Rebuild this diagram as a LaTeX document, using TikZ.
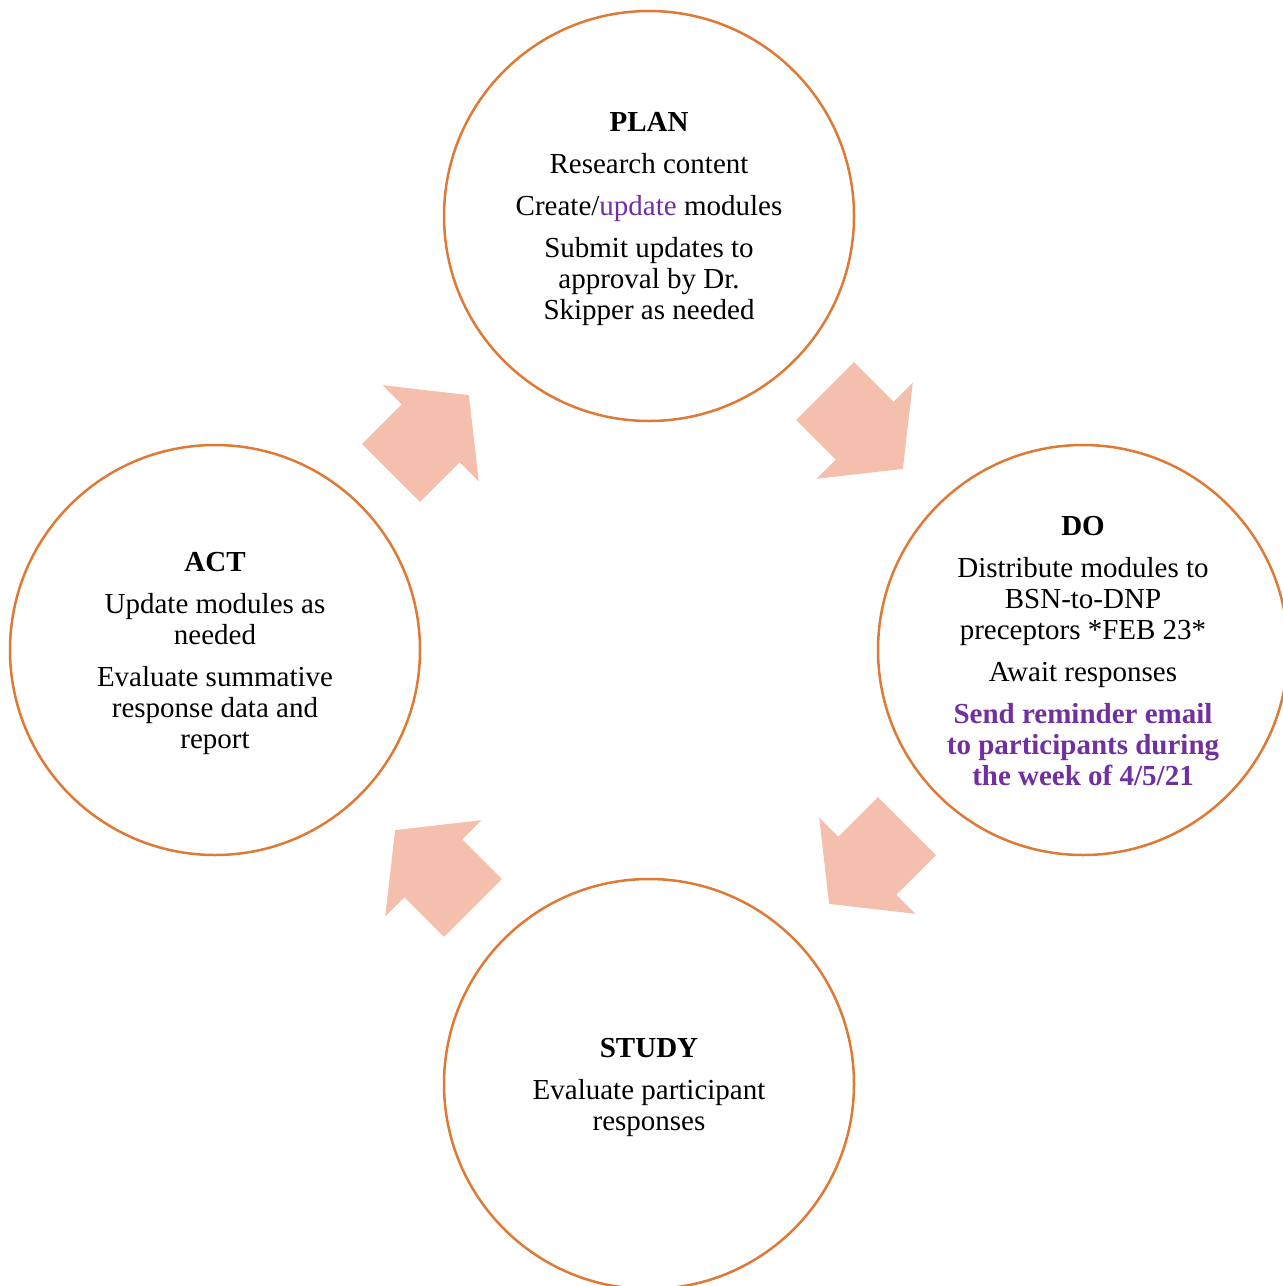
\documentclass[tikz,border=0pt]{standalone}
\usepackage{fontspec}
\setmainfont{Liberation Serif}
\definecolor{ringc}{HTML}{DF7A36}
\definecolor{arrowc}{HTML}{F4BFAD}
\definecolor{purp}{HTML}{7030A0}
\tikzset{
  phase/.style={circle, draw=ringc, line width=2.5pt, minimum size=410pt, inner sep=0pt},
  phasetext/.style={align=center, font=\fontsize{29}{31}\selectfont, text=black, inner sep=0pt},
  flow/.style={fill=arrowc, draw=none},
}
\newcommand{\chunkarrow}{(-55,41) -- (1,41) -- (1,68) -- (55,0) -- (1,-68) -- (1,-41) -- (-55,-41) -- cycle}
\begin{document}
\begin{tikzpicture}[x=1pt,y=-1pt]
\useasboundingbox (0,0) rectangle (1283,1286);
\fill[white] (0,0) rectangle (1283,1286);
\node[phase] (plan) at (649,216) {};
\node[phase] (do) at (1083,650) {};
\node[phase] (study) at (649,1084) {};
\node[phase] (act) at (215,650) {};
\node[phasetext] (plantext) at ([yshift=-3pt]plan.center) {\textbf{PLAN}\\[11pt]Research content\\[11pt]Create/\textcolor{purp}{update} modules\\[11pt]Submit updates to\\approval by Dr.\\Skipper as needed};
\node[phasetext] (dotext) at ([yshift=-1pt]do.center) {\textbf{DO}\\[11pt]Distribute modules to\\BSN-to-DNP\\preceptors *FEB 23*\\[11pt]Await responses\\[11pt]\textcolor{purp}{\textbf{Send reminder email}}\\\textcolor{purp}{\textbf{to participants during}}\\\textcolor{purp}{\textbf{the week of 4/5/21}}};
\node[phasetext] (studytext) at ([yshift=-3pt]study.center) {\textbf{STUDY}\\[11pt]Evaluate participant\\responses};
\node[phasetext] (acttext) at ([yshift=-3pt]act.center) {\textbf{ACT}\\[11pt]Update modules as\\needed\\[11pt]Evaluate summative\\response data and\\report};
\begin{scope}[shift={(864,430)}, rotate=-45]
  \fill[flow] \chunkarrow;
\end{scope}
\begin{scope}[shift={(868,865)}, rotate=-135]
  \fill[flow] \chunkarrow;
\end{scope}
\begin{scope}[shift={(434,869)}, rotate=135]
  \fill[flow] \chunkarrow;
\end{scope}
\begin{scope}[shift={(430,434)}, rotate=45]
  \fill[flow] \chunkarrow;
\end{scope}
\end{tikzpicture}
\end{document}
